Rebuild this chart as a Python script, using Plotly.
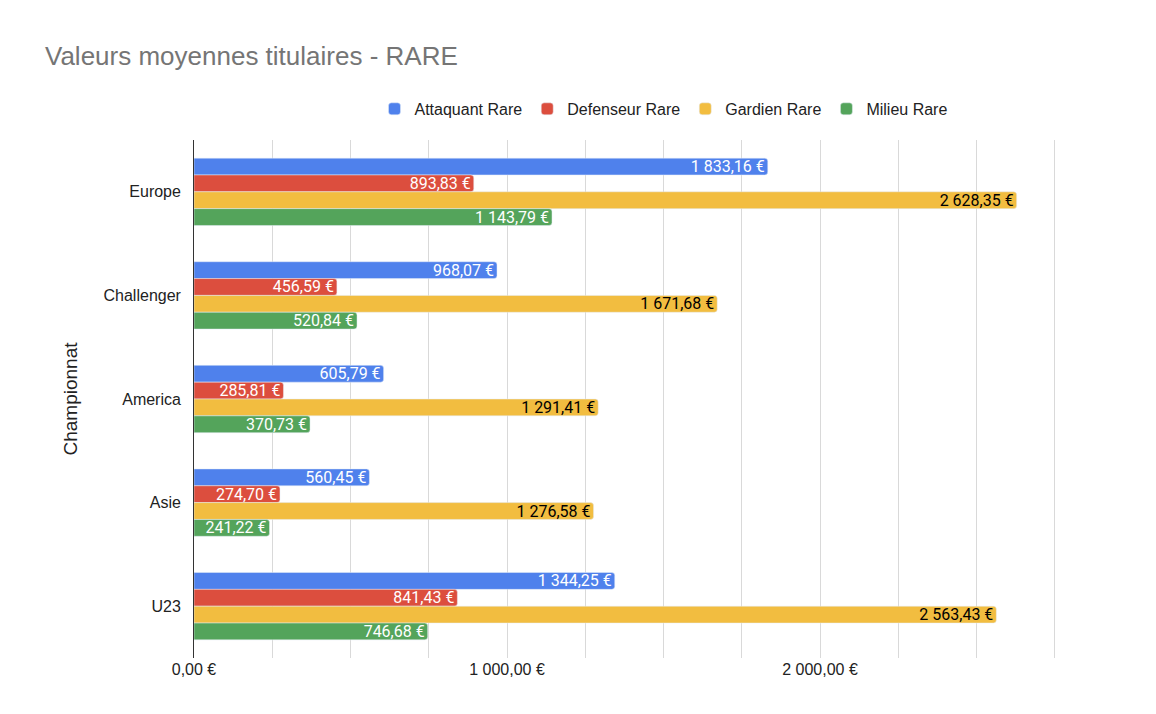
import plotly.graph_objects as go

championnats = ['Europe', 'Challenger', 'America', 'Asie', 'U23']
attaquant = [1833.16, 968.07, 605.79, 560.45, 1344.25]
defenseur = [893.83, 456.59, 285.81, 274.70, 841.43]
gardien = [2628.35, 1671.68, 1291.41, 1276.58, 2563.43]
milieu = [1143.79, 520.84, 370.73, 241.22, 746.68]
ticks_x = [0, 1000, 2000]
ticks_txt = ['0,00 €', '1 000,00 €', '2 000,00 €']

series = [
    ('Attaquant Rare', attaquant, '#4f81ec', 'white'),
    ('Defenseur Rare', defenseur, '#dc4e3e', 'white'),
    ('Gardien Rare', gardien, '#f2bd40', 'black'),
    ('Milieu Rare', milieu, '#54a45b', 'white'),
]

fig = go.Figure()
for nom, vals, couleur, txt in series:
    fig.add_trace(go.Bar(
        y=championnats, x=vals, name=nom, orientation='h',
        marker=dict(color=couleur, cornerradius=3),
        text=vals, texttemplate='%{x:,.2f} €',
        textposition='inside', insidetextanchor='end', constraintext='none',
        textfont=dict(color=txt, size=16, family='Roboto'),
        hovertemplate='%{y}: %{x:,.2f} €<extra>' + nom + '</extra>',
    ))

fig.update_layout(
    width=1156, height=714,
    separators=', ',
    barmode='group', bargap=0.35, bargroupgap=0,
    plot_bgcolor='white', paper_bgcolor='white',
    font=dict(family='Liberation Sans, Arial', size=16, color='#222'),
    title=dict(text='Valeurs moyennes titulaires - RARE', x=0.032, y=0.933,
               yanchor='middle', font=dict(size=26, color='#757575')),
    legend=dict(orientation='h', x=0.5, xanchor='center', y=1.06, yanchor='middle',
                font=dict(size=16)),
    margin=dict(l=186, r=31, t=132, b=64),
    xaxis=dict(range=[0, 3000], tickvals=ticks_x, ticktext=ticks_txt,
               showgrid=False, zeroline=False,
               minor=dict(dtick=250, showgrid=True, gridcolor='#d9d9d9')),
    yaxis=dict(autorange='reversed', title=dict(text='Championnat', standoff=20),
               showline=True, linecolor='#333', ticks='', ticksuffix='  '),
)
fig.write_html('out.html')
